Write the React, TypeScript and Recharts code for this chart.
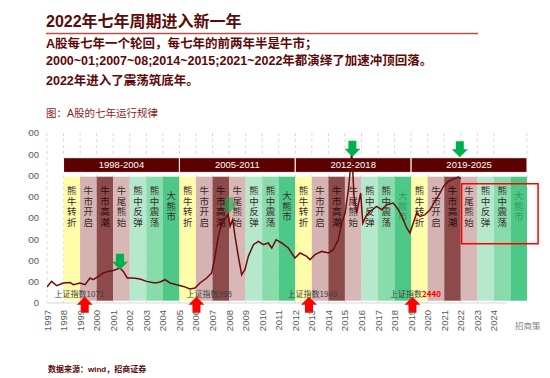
import React from "react";
import {
  ComposedChart,
  Line,
  XAxis,
  YAxis,
  CartesianGrid,
  ReferenceArea,
  ReferenceDot,
  ReferenceLine,
} from "recharts";

// Shanghai composite (chart units)
const years = [
  1997.0, 1997.28, 1997.59, 1997.98, 1998.39, 1998.59, 1998.99, 1999.3, 1999.6, 1999.8,
  2000.1, 2000.4, 2000.7, 2001.01, 2001.41, 2001.61, 2001.85, 2002.21, 2002.62, 2003.02,
  2003.53, 2003.83, 2004.13, 2004.44, 2004.84, 2005.24, 2005.64, 2005.94, 2006.24, 2006.65,
  2006.95, 2007.15, 2007.35, 2007.56, 2007.76, 2007.95, 2008.06, 2008.22, 2008.36, 2008.56,
  2008.76, 2008.96, 2009.16, 2009.47, 2009.77, 2010.07, 2010.37, 2010.58, 2010.84, 2011.18,
  2011.58, 2011.98, 2012.29, 2012.69, 2012.89, 2013.19, 2013.6, 2014.0, 2014.3, 2014.6,
  2014.81, 2015.01, 2015.21, 2015.35, 2015.41, 2015.55, 2015.71, 2015.87, 2015.95, 2016.08,
  2016.27, 2016.52, 2016.92, 2017.22, 2017.53, 2017.92, 2018.23, 2018.53, 2018.73, 2018.93,
  2019.13, 2019.34, 2019.54, 2019.84, 2020.14, 2020.44, 2020.75, 2020.95, 2021.25, 2021.55,
  2021.85, 2022.0,
];
const index = [
  753, 1017, 814, 941, 969, 861, 941, 861, 1177, 1096,
  1252, 1412, 1487, 1534, 1647, 1487, 1177, 1177, 1129, 1017,
  941, 988, 1096, 941, 861, 781, 659, 706, 941, 1177,
  1412, 2193, 3134, 3765, 4000, 4155, 3605, 3920, 3134, 2193,
  1332, 1567, 2193, 2744, 2899, 2744, 2824, 2588, 2979, 2824,
  2588, 2118, 2353, 2193, 2038, 2273, 2428, 2353, 2508, 2979,
  3765, 4235, 5332, 6508, 7214, 5017, 4235, 4861, 5177, 3765,
  4075, 4311, 4546, 4391, 4626, 4706, 4391, 3921, 3530, 3294,
  3765, 4235, 4075, 4155, 4391, 4781, 5177, 5487, 5722, 5835,
  5930, 5835,
];

const yearTicks = [
  1997, 1998, 1999, 2000, 2001, 2002, 2003, 2004, 2005, 2006, 2007, 2008, 2009, 2010,
  2011, 2012, 2013, 2014, 2015, 2016, 2017, 2018, 2019, 2020, 2021, 2022, 2023, 2024,
];
const valueTicks = [0, 1000, 2000, 3000, 4000, 5000, 6000, 7000, 8000];

const cycleStarts = [1998, 2005, 2012, 2019];
const cycleNames = ["1998-2004", "2005-2011", "2012-2018", "2019-2025"];
const phaseNames = ["熊牛转折", "牛市开启", "牛市高潮", "牛尾熊始", "熊中反弹", "熊中震荡", "大熊市"];
const phaseColors = ["#fffcaa", "#d5b3b3", "#8c4a4a", "#d8b7b7", "#b5e8cc", "#88dbab", "#4ec887"];

const lowYears = [1999.28, 2006.03, 2012.83, 2019.08];
const lowLabelYears = [1998.96, 2006.8, 2013.04, 2019.26];
const lowLabels = ["上证指数", "上证指数", "上证指数", "上证指数"];
const lowValues = ["1071", "998", "1949", "2440"];
const topYears = [2001.41, 2008.0, 2015.45, 2021.94];
const topValues = [1944, 4602, 7261, 7238];

const data = years.map((y, i) => ({ year: y, value: index[i] }));

const YearTick = (props: any) => {
  const { x, y, payload } = props;
  const tx = x + 3.5;
  const ty = y - 1;
  return (
    <text x={tx} y={ty} transform={`rotate(-90, ${tx}, ${ty})`} textAnchor="end" fontSize={9.5} fill="#595959">
      {payload.value}
    </text>
  );
};

const upArrow = (props: any) => {
  const { cx, cy } = props;
  const pts = [
    [cx, cy - 8], [cx + 8, cy], [cx + 4, cy], [cx + 4, cy + 8],
    [cx - 4, cy + 8], [cx - 4, cy], [cx - 8, cy],
  ];
  return <polygon points={pts.map((p) => p.join(",")).join(" ")} fill="#ff0000" />;
};

const downArrow = (faded: boolean) => (props: any) => {
  const { cx, cy } = props;
  const pts = [
    [cx - 4, cy - 8], [cx + 4, cy - 8], [cx + 4, cy], [cx + 8, cy],
    [cx, cy + 8], [cx - 8, cy], [cx - 4, cy],
  ];
  return (
    <polygon
      points={pts.map((p) => p.join(",")).join(" ")}
      fill="#00b04f"
      fillOpacity={faded ? 0.55 : 1}
    />
  );
};

// band rect with its stacked vertical caption, kept under the line
const bandShape = (name: string, color: string, textFill: string) => (props: any) => {
  const { x, y, width, height } = props;
  const chars = name.split("");
  const cx = x + width / 2;
  const mid = y + 30;
  const start = mid - ((chars.length - 1) * 10.5) / 2 + 3.3;
  return (
    <g>
      <rect x={x} y={y} width={width} height={height} fill={color} />
      <text textAnchor="middle" fontSize={9.5} fill={textFill} fontFamily="'Noto Sans CJK SC', sans-serif">
        {chars.map((c, i) => (
          <tspan key={i} x={cx} y={start + i * 10.5}>
            {c}
          </tspan>
        ))}
      </text>
    </g>
  );
};

const lowLabel = (i: number) => (props: any) => {
  const { cx, cy } = props;
  return (
    <text x={cx} y={cy + 3} textAnchor="middle" fontSize={8} fill="#404040" fontFamily="'Noto Sans CJK SC', serif">
      {lowLabels[i]}
      <tspan fill={i === 3 ? "#ff0000" : "#404040"} fontWeight={i === 3 ? "bold" : "normal"}>
        {lowValues[i]}
      </tspan>
    </text>
  );
};

const textColor = (cycle: number, phase: number) => {
  if (phase === 6 && (cycle === 2 || cycle === 3)) return "#2e9e5e";
  if (phase === 2) return "#2a0d0d";
  return "#3a2c2c";
};

export default function App() {
  const font = "'Liberation Sans', Arial, 'Noto Sans CJK SC', sans-serif";
  const maroon = "#5c0a0a";
  return (
    <div style={{ position: "absolute", left: 0, top: 0, width: 550, height: 378, background: "#fff", fontFamily: font }}>
      <svg width={550} height={378} style={{ position: "absolute", left: 0, top: 0 }}>
        <text x={46} y={27} fontSize={16} fontWeight="bold" fill={maroon}>
          2022年七年周期进入新一年
        </text>
        <line x1={46} y1={33.5} x2={478} y2={33.5} stroke="#b9504c" strokeWidth={1.4} />
        <text x={46} y={48} fontSize={12.5} fontWeight="bold" fill={maroon}>
          A股每七年一个轮回，每七年的前两年半是牛市；
        </text>
        <text x={46} y={65} fontSize={12.5} fontWeight="bold" fill={maroon}>
          2000~01;2007~08;2014~2015;2021~2022年都演绎了加速冲顶回落。
        </text>
        <text x={46} y={85} fontSize={12.5} fontWeight="bold" fill={maroon}>
          2022年进入了震荡筑底年。
        </text>
        <text x={46} y={117} fontSize={10.5} fill="#8b1c1c">
          图：A股的七年运行规律
        </text>
        <text x={515} y={329} fontSize={8.5} fill="#7f7f7f">
          招商策
        </text>
        <text x={48} y={372} fontSize={8} fontWeight="bold" fill={maroon}>
          数据来源：wind，招商证券
        </text>
      </svg>
      <div style={{ position: "absolute", left: 28, top: 0, width: 522, height: 378, overflow: "hidden" }}>
        <div style={{ position: "absolute", left: -28, top: 0 }}>
          <ComposedChart width={550} height={378} data={data} margin={{ top: 133, right: 23, bottom: 0, left: 7 }}>
            <CartesianGrid vertical horizontal={false} strokeDasharray="3 3" stroke="#d9d9d9" />
            <XAxis
              type="number"
              dataKey="year"
              domain={[1997, 2026]}
              ticks={yearTicks}
              axisLine={false}
              tickLine={false}
              height={75}
              tick={<YearTick />}
              interval={0}
              allowDataOverflow
            />
            <YAxis
              domain={[0, 8000]}
              ticks={valueTicks}
              axisLine={false}
              tickLine={false}
              width={40}
              tick={{ fontSize: 9.5, fill: "#595959" }}
            />
            <ReferenceLine
              segment={[{ x: 1997, y: 0 }, { x: 2024.8, y: 0 }]}
              stroke="#d9d9d9"
              ifOverflow="visible"
            />
            {cycleStarts.map((s, ci) =>
              phaseNames.map((p, pi) => (
                <ReferenceArea
                  key={`band-${ci}-${pi}`}
                  x1={s + pi}
                  x2={s + pi + 1}
                  y1={108}
                  y2={5944}
                  fill={phaseColors[pi]}
                  fillOpacity={1}
                  ifOverflow="visible"
                  shape={bandShape(p, phaseColors[pi], textColor(ci, pi))}
                />
              ))
            )}
            {cycleStarts.map((s, ci) => (
              <ReferenceArea
                key={`head-${ci}`}
                x1={s}
                x2={s + 7}
                y1={6146}
                y2={6838}
                fill="#5c0000"
                fillOpacity={1}
                stroke="#ffffff"
                strokeWidth={1}
                ifOverflow="visible"
                label={{ value: cycleNames[ci], fill: "#ffffff", fontSize: 9.5, position: "center" }}
              />
            ))}
            <Line
              type="linear"
              dataKey="value"
              stroke="#6e0b0b"
              strokeWidth={1.5}
              dot={false}
              isAnimationActive={false}
            />
            {lowLabelYears.map((x, i) => (
              <ReferenceDot key={`lbl-${i}`} x={x} y={438} ifOverflow="visible" shape={lowLabel(i)} />
            ))}
            {lowYears.map((x, i) => (
              <ReferenceDot key={`up-${i}`} x={x} y={-80} ifOverflow="visible" shape={upArrow} />
            ))}
            {topYears.map((x, i) => (
              <ReferenceDot key={`dn-${i}`} x={x} y={topValues[i]} ifOverflow="visible" shape={downArrow(i === 1)} />
            ))}
            <ReferenceArea
              x1={2022.05}
              x2={2026.67}
              y1={2791}
              y2={5614}
              fill="none"
              fillOpacity={0}
              stroke="#ff0000"
              strokeWidth={1.5}
              ifOverflow="visible"
            />
          </ComposedChart>
        </div>
      </div>
    </div>
  );
}
